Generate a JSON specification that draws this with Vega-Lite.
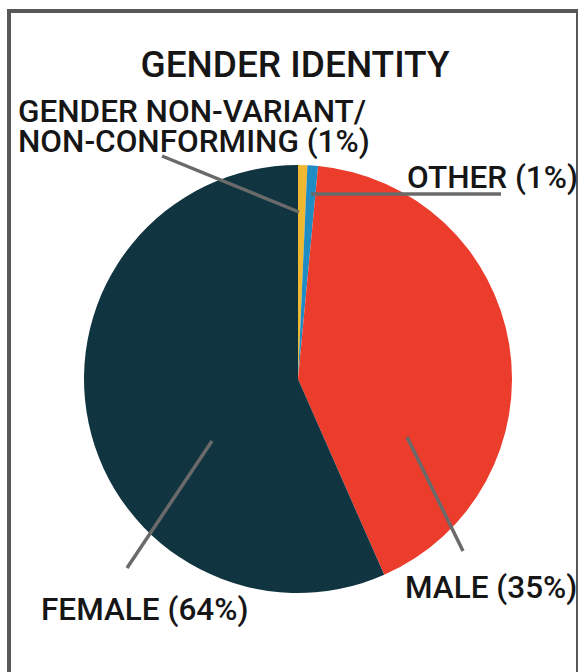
{
  "$schema": "https://vega.github.io/schema/vega-lite/v6.json",
  "width": 578,
  "height": 672,
  "autosize": "none",
  "padding": 0,
  "background": "white",
  "config": {"view": {"stroke": null}},
  "datasets": {
    "frame": [{"x": 9, "x2": 578, "y": 11, "y2": 690}],
    "slices": [
      {"category": "Gender non-variant/non-conforming", "value": 0.7, "order": 1},
      {"category": "Other", "value": 0.8, "order": 2},
      {"category": "Male", "value": 41.9, "order": 3},
      {"category": "Female", "value": 56.6, "order": 4}
    ],
    "leaders": [
      {"label": "gnc", "x": 162, "y": 156, "x2": 299, "y2": 212},
      {"label": "other", "x": 311, "y": 194, "x2": 501, "y2": 194},
      {"label": "male", "x": 407, "y": 437, "x2": 463, "y2": 551},
      {"label": "female", "x": 212, "y": 441, "x2": 127, "y2": 568}
    ],
    "title": [{"x": 295, "y": 77, "text": "GENDER IDENTITY"}],
    "labels": [
      {"x": 18, "y": 122, "text": "GENDER NON-VARIANT/\nNON-CONFORMING (1%)"},
      {"x": 407, "y": 188, "text": "OTHER (1%)"},
      {"x": 405, "y": 598, "text": "MALE (35%)"},
      {"x": 41, "y": 620, "text": "FEMALE (64%)"}
    ]
  },
  "layer": [
    {
      "data": {"name": "frame"},
      "mark": {"type": "rect", "fill": null, "stroke": "#58585a", "strokeWidth": 4},
      "encoding": {
        "x": {"field": "x", "type": "quantitative", "scale": {"domain": [0, 578], "nice": false, "zero": false}, "axis": null},
        "x2": {"field": "x2"},
        "y": {"field": "y", "type": "quantitative", "scale": {"domain": [0, 672], "nice": false, "zero": false, "reverse": true}, "axis": null},
        "y2": {"field": "y2"}
      }
    },
    {
      "data": {"name": "slices"},
      "mark": {"type": "arc", "radius": 214, "stroke": null},
      "encoding": {
        "theta": {"field": "value", "type": "quantitative", "stack": true},
        "order": {"field": "order", "type": "quantitative"},
        "color": {
          "field": "category",
          "type": "nominal",
          "scale": {
            "domain": ["Gender non-variant/non-conforming", "Other", "Male", "Female"],
            "range": ["#f0b830", "#1f8cc4", "#ec3c2c", "#103440"]
          },
          "legend": null
        },
        "x": {"datum": 298, "type": "quantitative"},
        "y": {"datum": 379, "type": "quantitative"}
      }
    },
    {
      "data": {"name": "leaders"},
      "mark": {"type": "rule", "color": "#6a6a6a", "strokeWidth": 3.5},
      "encoding": {
        "x": {"field": "x", "type": "quantitative"},
        "y": {"field": "y", "type": "quantitative"},
        "x2": {"field": "x2"},
        "y2": {"field": "y2"}
      }
    },
    {
      "data": {"name": "title"},
      "mark": {"type": "text", "align": "center", "baseline": "alphabetic", "font": "Roboto", "fontWeight": 500, "fontSize": 37, "color": "#161616"},
      "encoding": {
        "x": {"field": "x", "type": "quantitative"},
        "y": {"field": "y", "type": "quantitative"},
        "text": {"field": "text"}
      }
    },
    {
      "data": {"name": "labels"},
      "mark": {"type": "text", "align": "left", "baseline": "alphabetic", "font": "Roboto", "fontWeight": 500, "fontSize": 31.5, "lineBreak": "\n", "lineHeight": 30, "color": "#161616"},
      "encoding": {
        "x": {"field": "x", "type": "quantitative"},
        "y": {"field": "y", "type": "quantitative"},
        "text": {"field": "text"}
      }
    }
  ]
}
